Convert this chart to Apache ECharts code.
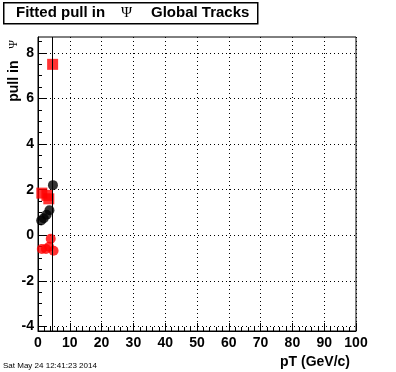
<!DOCTYPE html>
<html><head><meta charset="utf-8">
<script src="https://cdn.jsdelivr.net/npm/echarts@6/dist/echarts.min.js"></script>
<style>html,body{margin:0;padding:0;background:#fff}#c{width:396px;height:372px}</style>
</head><body><div id="c"></div>
<script>
// ---- data ----
const xRange = [0, 100];
const yRange = [-4.2, 8.7];
const xTicks = [0, 10, 20, 30, 40, 50, 60, 70, 80, 90, 100];
const yTicks = [-4, -2, 0, 2, 4, 6, 8];
const yMinorTicks = [-3.5, -3, -2.5, -1.5, -1, -0.5, 0.5, 1, 1.5, 2.5, 3, 3.5, 4.5, 5, 5.5, 6.5, 7, 7.5, 8.5];

const blackPT   = [1.0, 1.8, 2.7, 3.6, 4.7];
const blackPull = [0.65, 0.75, 0.9, 1.1, 2.2];

const redPT   = [1.2, 2.5, 3.5, 4.0, 4.9];
const redPull = [-0.6, -0.6, -0.5, -0.15, -0.68];

const sqPT   = [1.2, 2.8, 3.4, 4.6];
const sqPull = [1.85, 1.75, 1.6, 7.5];

const refLineX = [4.5];

const titleParts = ['Fitted pull in', '\u03A8', 'Global Tracks'];
const yTitle = ['pull in', '\u03A8'];
const xTitle = 'pT (GeV/c)';
const dateText = 'Sat May 24 12:41:23 2014';

// ---- chart ----
const zip = (a, b) => a.map((v, i) => [v, b[i]]);
const F = 'Liberation Sans, Arial, Helvetica, sans-serif';
const chart = echarts.init(document.getElementById('c'), null, {renderer: 'canvas'});

const gridL = 38, gridR = 40, gridT = 37, gridB = 41;

chart.setOption({
  animation: false,
  backgroundColor: '#fff',
  grid: {left: gridL, right: gridR, top: gridT, bottom: gridB, show: true, borderColor: '#000', borderWidth: 1, outerBoundsMode: 'none'},
  xAxis: {
    type: 'value', min: xRange[0], max: xRange[1], interval: 10,
    axisLine: {show: true, onZero: false, lineStyle: {color: '#000', width: 1}},
    axisTick: {inside: true, length: 8, lineStyle: {color: '#000'}},
    minorTick: {show: true, splitNumber: 5, length: 4, lineStyle: {color: '#000'}},
    splitLine: {show: true, lineStyle: {color: '#000', type: [1, 3], width: 1}},
    axisLabel: {color: '#000', fontFamily: F, fontWeight: 'bold', fontSize: 14, margin: 5,
      formatter: v => xTicks.includes(v) ? String(v) : ''}
  },
  yAxis: [{
    type: 'value', min: yRange[0], max: yRange[1], position: 'left',
    axisLine: {show: true, onZero: false, lineStyle: {color: '#000', width: 1}},
    axisTick: {inside: true, length: 8, customValues: yTicks, lineStyle: {color: '#000'}},
    splitLine: {show: true, lineStyle: {color: '#000', type: [1, 3], width: 1}},
    axisLabel: {color: '#000', fontFamily: F, fontWeight: 'bold', fontSize: 14, margin: 4, customValues: yTicks,
      formatter: v => String(v)}
  }, {
    type: 'value', min: yRange[0], max: yRange[1], position: 'left',
    axisLine: {show: false},
    axisTick: {inside: true, length: 4, customValues: yMinorTicks, lineStyle: {color: '#000'}},
    splitLine: {show: false},
    axisLabel: {show: false}
  }],
  series: [
    {type: 'scatter', data: zip(blackPT, blackPull), symbol: 'circle', symbolSize: 10,
     itemStyle: {color: '#000'}, z: 3},
    {type: 'scatter', data: zip(redPT, redPull), symbol: 'circle', symbolSize: 10,
     itemStyle: {color: '#ff0000'}, z: 3},
    {type: 'scatter', data: zip(sqPT, sqPull), symbol: 'rect', symbolSize: 11,
     itemStyle: {color: '#ff0000'}, z: 4,
     markLine: {silent: true, symbol: 'none', label: {show: false},
       lineStyle: {color: '#000', type: 'solid', width: 1},
       data: refLineX.map(v => ({xAxis: v}))}}
  ],
  graphic: [
    {type: 'rect', left: 3, top: 2, shape: {width: 254, height: 21},
     style: {fill: '#fff', stroke: '#000', lineWidth: 1.5}, z: 10},
    {type: 'text', x: 16, y: 13, z: 11,
     style: {text: titleParts[0], font: 'bold 15px ' + F, fill: '#000', verticalAlign: 'middle'}},
    {type: 'text', x: 121, y: 13, z: 11,
     style: {text: titleParts[1], font: '15px Liberation Serif, DejaVu Serif, serif', fill: '#000', verticalAlign: 'middle'}},
    {type: 'text', x: 151, y: 13, z: 11,
     style: {text: titleParts[2], font: 'bold 15px ' + F, fill: '#000', verticalAlign: 'middle'}},
    {type: 'text', x: 14, y: 40, rotation: Math.PI / 2, z: 11,
     style: {text: yTitle[0] + '   {p|' + yTitle[1] + '}', align: 'right', verticalAlign: 'middle',
       font: 'bold 14px ' + F, fill: '#000',
       rich: {p: {fontFamily: 'Liberation Serif, DejaVu Serif, serif', fontWeight: 'normal', fontSize: 12, fill: '#000'}}}},
    {type: 'text', x: 350, y: 362, z: 11,
     style: {text: xTitle, align: 'right', verticalAlign: 'middle', font: 'bold 14px ' + F, fill: '#000'}},
    {type: 'text', x: 3, y: 366, z: 11,
     style: {text: dateText, align: 'left', verticalAlign: 'middle', font: '8px ' + F, fill: '#000'}}
  ]
});
</script></body></html>
